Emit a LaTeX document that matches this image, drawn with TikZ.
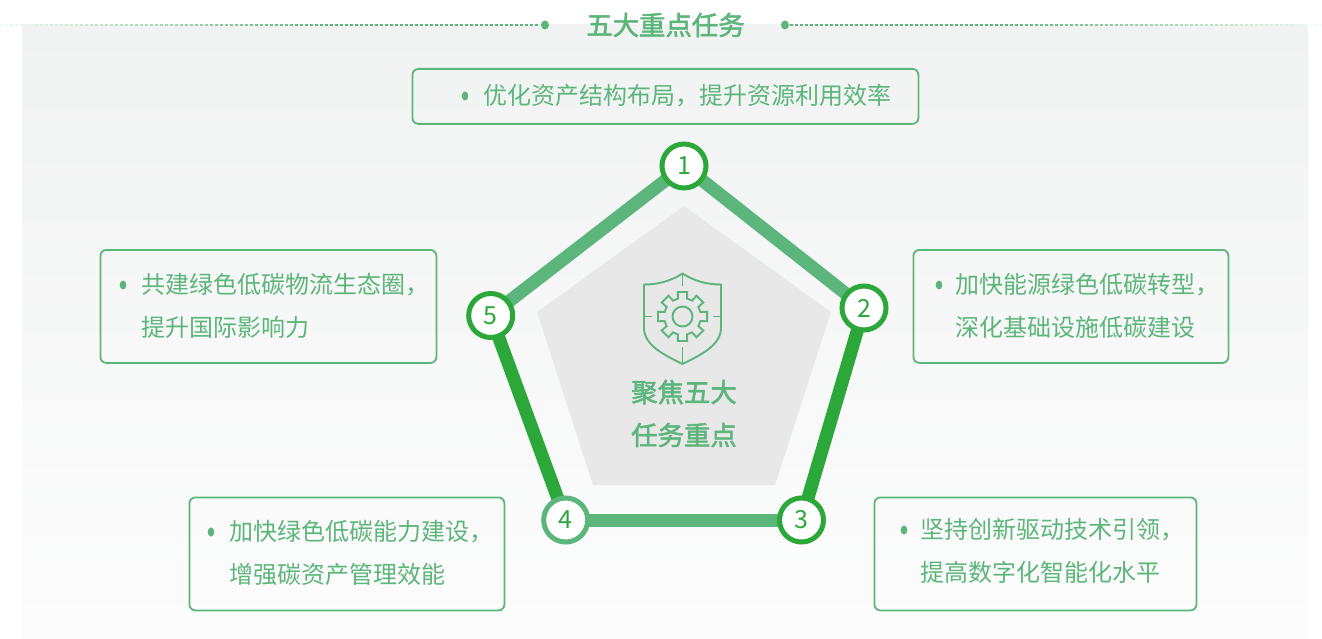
\documentclass[tikz,border=0pt]{standalone}
\usepackage{fontspec}
\setmainfont{Noto Sans CJK SC}
\newfontfamily\medfont[FakeBold=2]{Noto Sans CJK SC}
\definecolor{lgreen}{HTML}{5CB57A}
\definecolor{dgreen}{HTML}{2CA83A}
\definecolor{pent}{HTML}{E8E8E8}
\definecolor{bgtop}{HTML}{F1F3F2}
\definecolor{bgbot}{HTML}{FCFCFC}
\tikzset{
  taskbox/.style={draw=lgreen,line width=1.8pt,rounded corners=6pt,inner sep=0pt,anchor=north west},
  tasktext/.style={text=lgreen,anchor=west,align=left,inner sep=0pt,font=\fontsize{24pt}{43pt}\selectfont},
  dot/.style={fill=lgreen},
  numnode/.style={circle,fill=white,line width=5pt,minimum size=44pt,inner sep=0pt,text=dgreen,font=\fontsize{25pt}{28pt}\selectfont},
  darkring/.style={numnode,draw=dgreen},
  lightring/.style={numnode,draw=lgreen},
  lightedge/.style={draw=lgreen,line width=13pt,shorten >=-8pt,shorten <=-8pt},
  darkedge/.style={draw=dgreen,line width=13pt,shorten >=-8pt,shorten <=-8pt},
  headtext/.style={text=lgreen,inner sep=0pt,align=center,font=\medfont\fontsize{26.4pt}{43pt}\selectfont},
  iconline/.style={draw=lgreen,line width=1.9pt,line join=miter},
}
\begin{document}
\begin{tikzpicture}[x=1pt,y=-1pt]
\useasboundingbox (0,0) rectangle (1322,639);
\fill[white] (0,0) rectangle (1322,639);
\shade[top color=bgtop,bottom color=bgbot] (22,25) rectangle (1308,639);
% title rule, fading outward
\foreach \x in {0,5,...,535}{
  \pgfmathsetmacro{\op}{min(100,\x/3.5+8)}
  \draw[lgreen!\op!white,line width=1.8pt] (\x,25) -- (\x+3,25);
}
\foreach \x in {790,795,...,1320}{
  \pgfmathsetmacro{\op}{min(100,(1322-\x)/3.5+8)}
  \draw[lgreen!\op!white,line width=1.8pt] (\x,25) -- (\x+3,25);
}
\fill[dot] (545,25) ellipse (4pt and 4.5pt);
\fill[dot] (785,25) ellipse (4pt and 4.5pt);
\node[headtext] (title) at (665.5,25) {五大重点任务};
% task boxes
\node[taskbox,minimum width=506pt,minimum height=55pt] (box1) at (411.5,68) {};
\node[taskbox,minimum width=315pt,minimum height=113pt] (box2) at (912.5,249) {};
\node[taskbox,minimum width=322pt,minimum height=113pt] (box3) at (873.5,496.5) {};
\node[taskbox,minimum width=315pt,minimum height=113pt] (box4) at (188.5,496.5) {};
\node[taskbox,minimum width=336pt,minimum height=113pt] (box5) at (99.5,249) {};
\node[tasktext] (t1) at (483,96) {优化资产结构布局，提升资源利用效率};
\node[tasktext] (t2) at (955,306) {加快能源绿色低碳转型，\\深化基础设施低碳建设};
\node[tasktext] (t3) at (920,551) {坚持创新驱动技术引领，\\提高数字化智能化水平};
\node[tasktext] (t4) at (229,553) {加快绿色低碳能力建设，\\增强碳资产管理效能};
\node[tasktext] (t5) at (141,306) {共建绿色低碳物流生态圈，\\提升国际影响力};
\fill[dot] (465,96) ellipse (3.3pt and 4.5pt);
\fill[dot] (939,285) ellipse (3.3pt and 4.5pt);
\fill[dot] (904,530) ellipse (3.3pt and 4.5pt);
\fill[dot] (211,532) ellipse (3.3pt and 4.5pt);
\fill[dot] (123,285) ellipse (3.3pt and 4.5pt);
% inner pentagon
\fill[pent] (684,206) -- (831,312) -- (775,485) -- (593,485) -- (537,312) -- cycle;
% shield icon
\draw[iconline] (682.5,273.5) .. controls (671,281) and (658,284.5) .. (644,284.5) -- (644,328) .. controls (644,345) and (664,355) .. (682.5,364) .. controls (701,355) and (721,345) .. (721,328) -- (721,284.5) .. controls (707,284.5) and (694,281) .. (682.5,273.5) -- cycle;
\draw[iconline] (682.5,274) -- (682.5,286);
\draw[iconline] (682.5,347) -- (682.5,364);
\draw[iconline] (644,316.5) -- (652,316.5);
\draw[iconline] (713,316.5) -- (721,316.5);
\draw[iconline] (682.5,316.5) circle (10pt);
\draw[iconline] ([shift={(-11:25pt)}]682.5,316.5)
  \foreach \a in {0,45,...,315}{
    -- ([shift={(\a-11:25pt)}]682.5,316.5)
    -- ([shift={(\a+11:25pt)}]682.5,316.5)
    -- ([shift={(\a+14:18.5pt)}]682.5,316.5)
    -- ([shift={(\a+31:18.5pt)}]682.5,316.5)
  } -- cycle;
\node[headtext] (center) at (684,413.5) {聚焦五大\\任务重点};
% numbered nodes
\node[darkring,draw=none,fill=none] (n1) at (684,166) {};
\node[darkring,draw=none,fill=none] (n2) at (864,308) {};
\node[darkring,draw=none,fill=none] (n3) at (801.5,520) {};
\node[darkring,draw=none,fill=none] (n4) at (565.7,520) {};
\node[darkring,draw=none,fill=none] (n5) at (490.7,315.5) {};
\draw[lightedge] (n1) -- (n2);
\draw[darkedge] (n2) -- (n3);
\draw[lightedge] (n3) -- (n4);
\draw[darkedge] (n4) -- (n5);
\draw[lightedge] (n5) -- (n1);
\node[darkring] at (n1) {1};
\node[darkring] at (n2) {2};
\node[darkring] at (n3) {3};
\node[lightring] at (n4) {4};
\node[darkring] at (n5) {5};
\end{tikzpicture}
\end{document}
